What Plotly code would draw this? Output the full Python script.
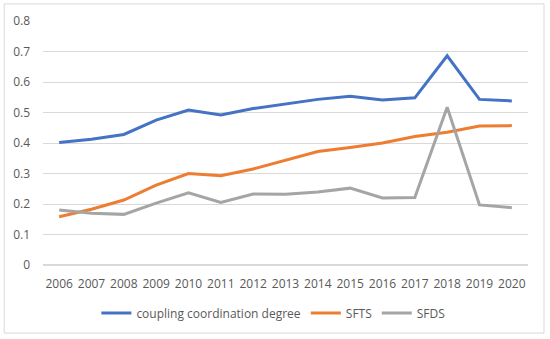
import plotly.graph_objects as go

years = [str(y) for y in range(2006, 2021)]
ccd = [0.402, 0.412, 0.428, 0.475, 0.508, 0.492, 0.513, 0.528, 0.543, 0.553, 0.541, 0.548, 0.686, 0.543, 0.538]
sfts = [0.158, 0.183, 0.213, 0.262, 0.300, 0.293, 0.315, 0.343, 0.372, 0.385, 0.400, 0.421, 0.435, 0.456, 0.457]
sfds = [0.180, 0.170, 0.166, 0.203, 0.237, 0.205, 0.233, 0.232, 0.239, 0.252, 0.220, 0.221, 0.517, 0.197, 0.188]
y_ticks = [0, 0.1, 0.2, 0.3, 0.4, 0.5, 0.6, 0.7, 0.8]
y_tick_text = ["0", "0.1", "0.2", "0.3", "0.4", "0.5", "0.6", "0.7", "0.8"]

fig = go.Figure()
fig.add_trace(go.Scatter(x=years, y=ccd, mode="lines", name="coupling coordination degree",
                         line=dict(color="#4472C4", width=3)))
fig.add_trace(go.Scatter(x=years, y=sfts, mode="lines", name="SFTS",
                         line=dict(color="#ED7D31", width=3)))
fig.add_trace(go.Scatter(x=years, y=sfds, mode="lines", name="SFDS",
                         line=dict(color="#A5A5A5", width=3)))

fig.update_layout(
    width=550, height=339,
    margin=dict(l=43, r=22, t=21, b=74, autoexpand=False),
    paper_bgcolor="white", plot_bgcolor="white",
    font=dict(family="Open Sans, Liberation Sans, sans-serif", size=12, color="#595959"),
    showlegend=True,
    legend=dict(orientation="h", x=0.475, xanchor="center", y=-0.197, yanchor="middle",
                font=dict(size=12, color="#595959"), itemwidth=30, tracegroupgap=0),
    shapes=[dict(type="rect", xref="paper", yref="paper", x0=-0.080, x1=1.033, y0=-0.279, y1=1.070,
                 line=dict(color="#D9D9D9", width=1))],
)
fig.update_xaxes(type="category", showgrid=False, showline=False, ticks="", automargin=False,
                 tickfont=dict(size=12, color="#595959"), range=[-0.5, 14.5], ticklabelstandoff=10)
fig.update_yaxes(range=[0, 0.8], tickvals=y_ticks, ticktext=y_tick_text, automargin=False,
                 showgrid=True, gridcolor="#D9D9D9", gridwidth=1, zeroline=True,
                 zerolinecolor="#D9D9D9", showline=False, ticks="",
                 tickfont=dict(size=12, color="#595959"), ticklabelstandoff=12)

fig.write_html("out.html", config={"displayModeBar": False},
               post_script="document.body.style.margin='0';document.body.style.overflow='hidden';")
